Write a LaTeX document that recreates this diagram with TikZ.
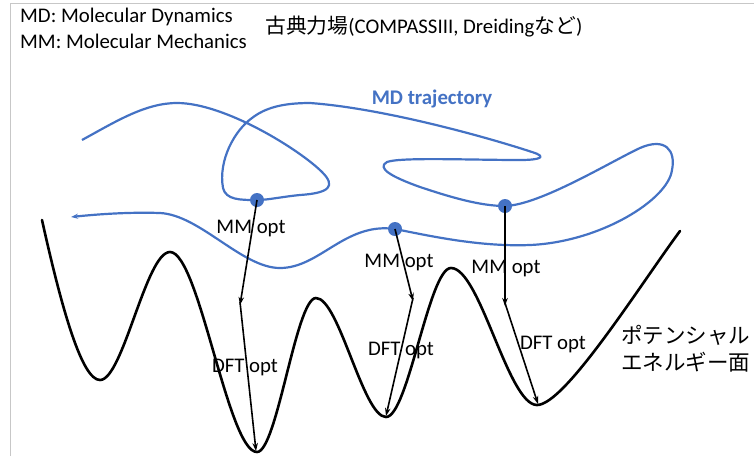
\documentclass[tikz,border=0pt]{standalone}
\usepackage{fontspec}
\setmainfont{Carlito}
\newfontfamily\jp{Noto Sans CJK JP}
\usetikzlibrary{arrows.meta}
\definecolor{trajblue}{HTML}{4472C4}
\begin{document}
\begin{tikzpicture}[x=1pt,y=-1pt,
  frame/.style={black!22, line width=1pt},
  pes/.style={line width=2.6pt, line cap=round, line join=round},
  traj/.style={trajblue, line width=2.2pt, line join=round},
  dotnode/.style={circle, fill=trajblue, inner sep=0pt, minimum size=14pt},
  optarrow/.style={line width=1.6pt, -{Stealth[length=8pt,width=5.5pt]}},
  lbl/.style={font=\fontsize{20.8}{25}\selectfont, inner sep=0pt},
  jplbl/.style={font=\jp\fontsize{21.5}{27}\selectfont, inner sep=0pt, align=left}]
\useasboundingbox (0,0) rectangle (754,456);
% frame lines
\draw[frame] (10,456) -- (10,3) -- (754,3);

% header texts
\node[lbl, anchor=west] (md) at (20,17) {MD: Molecular Dynamics};
\node[lbl, anchor=west] (mm) at (20,41) {MM: Molecular Mechanics};
\node[lbl, anchor=west] (ff) at (265,27) {{\jp 古典力場}(COMPASSIII, Dreiding{\jp など})};
\node[lbl, font=\bfseries\fontsize{20.8}{25}\selectfont, text=trajblue] (mdtraj) at (432,99) {MD trajectory};

% potential energy surface
\draw[pes] (42,220)
  .. controls (62,310) and (82,380) .. (100,380)
  .. controls (123,380) and (146,252) .. (170,252)
  .. controls (199,252) and (228,452) .. (257,452)
  .. controls (277,452) and (296,298) .. (316,298)
  .. controls (339,298) and (363,417) .. (386,417)
  .. controls (408,417) and (429,268) .. (451,268)
  .. controls (480,268) and (508,405) .. (537,405)
  .. controls (565,405) and (640,285) .. (680,231);
\node[jplbl, anchor=north west] (pestxt) at (621,325) {ポテンシャル\\エネルギー面};

% dots
\node[dotnode] (dot1) at (257,200) {};
\node[dotnode] (dot2) at (395,229) {};
\node[dotnode] (dot3) at (505,206) {};

% MD trajectory
\draw[traj, -{Stealth[length=7pt,width=5pt]}] (82,140)
  .. controls (115,122) and (145,103) .. (177,103)
  .. controls (225,103) and (300,150) .. (322,172)
  .. controls (336,186) and (330,193) .. (300,195)
  .. controls (280,197) and (268,200) .. (dot1.center)
  .. controls (240,200) and (226,200) .. (223,188)
  .. controls (218,160) and (235,130) .. (252,118)
  .. controls (265,108) and (282,103) .. (310,103)
  .. controls (380,108) and (480,135) .. (532,152)
  .. controls (548,157) and (540,160) .. (520,160)
  .. controls (470,160) and (400,157) .. (387,162)
  .. controls (376,168) and (392,177) .. (420,187)
  .. controls (450,197) and (480,206) .. (dot3.center)
  .. controls (540,205) and (610,162) .. (640,148)
  .. controls (665,137) and (676,150) .. (672,170)
  .. controls (668,200) and (600,242) .. (530,245)
  .. controls (480,247) and (430,236) .. (dot2.center)
  .. controls (345,222) and (320,268) .. (280,268)
  .. controls (242,268) and (200,215) .. (160,213)
  .. controls (130,212) and (100,214) .. (71,217);

% optimisation arrows
\coordinate (mm1) at (240,305);
\coordinate (mm2) at (413,301);
\coordinate (mm3) at (505,306);
\coordinate (b1) at (256,451);
\coordinate (b2) at (386,416);
\coordinate (b3) at (538,404);
\draw[optarrow] (dot1.center) -- (mm1);
\draw[optarrow] (dot2.center) -- (mm2);
\draw[optarrow] (dot3.center) -- (mm3);
\draw[optarrow] ([yshift=3pt]mm1) -- (b1);
\draw[optarrow] ([yshift=3pt]mm2) -- (b2);
\draw[optarrow] ([yshift=3pt]mm3) -- (b3);

% labels
\node[lbl] (mmopt1) at (251,228) {MM opt};
\node[lbl] (mmopt2) at (399,262) {MM opt};
\node[lbl] (mmopt3) at (506,268) {MM opt};
\node[lbl] (dft1) at (245,367) {DFT opt};
\node[lbl] (dft2) at (401,350) {DFT opt};
\node[lbl] (dft3) at (553,344) {DFT opt};
\end{tikzpicture}
\end{document}
